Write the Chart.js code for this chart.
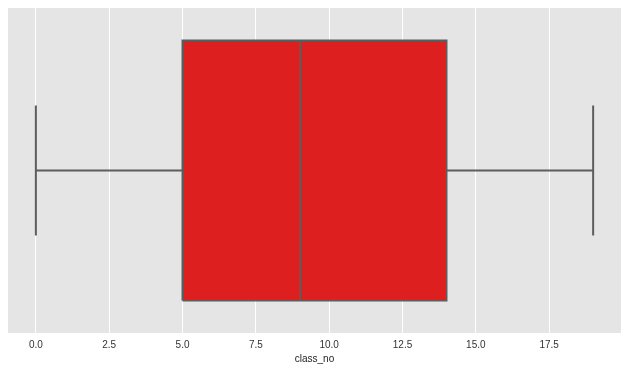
<!DOCTYPE html>
<html>
<head>
<meta charset="utf-8">
<script src="https://cdn.jsdelivr.net/npm/chart.js@4/dist/chart.umd.min.js"></script>
<style>
  html, body { margin: 0; padding: 0; background: #fff; }
  #wrap { width: 628px; height: 369px; }
</style>
</head>
<body>
<div id="wrap"><canvas id="boxChart"></canvas></div>
<script>
// Box plot summary of class_no
const whiskerLow = 0;
const q1 = 5;
const median = 9;
const q3 = 14;
const whiskerHigh = 19;

const xTicks = [0, 2.5, 5, 7.5, 10, 12.5, 15, 17.5];
const axisLabel = 'class_no';

const edgeColor = '#5d5d5d';
const boxColor = '#de1f1f';
const boxHalf = 0.4;   // box is 0.8 of the category band
const capHalf = 0.2;

// gray ggplot-like panel behind the plot
const panelBg = {
    id: 'panelBg',
    beforeDraw(chart) {
        const { ctx, chartArea: a } = chart;
        ctx.save();
        ctx.fillStyle = '#e5e5e5';
        ctx.fillRect(a.left, a.top, a.right - a.left, a.bottom - a.top);
        ctx.restore();
    }
};

function seg(points, extra) {
    return Object.assign({
        type: 'line',
        data: points,
        borderColor: edgeColor,
        borderWidth: 2,
        pointRadius: 0,
        fill: false,
        tension: 0,
        order: 1
    }, extra || {});
}

const ctx = document.getElementById('boxChart').getContext('2d');
const boxChart = new Chart(ctx, {
    type: 'scatter',
    data: {
        datasets: [
            // the box (Q1..Q3)
            seg([
                { x: q1, y: -boxHalf }, { x: q3, y: -boxHalf },
                { x: q3, y: boxHalf }, { x: q1, y: boxHalf },
                { x: q1, y: -boxHalf }
            ], { fill: 'shape', backgroundColor: boxColor, order: 2 }),
            seg([{ x: whiskerLow, y: 0 }, { x: q1, y: 0 }]),
            seg([{ x: q3, y: 0 }, { x: whiskerHigh, y: 0 }]),
            seg([{ x: whiskerLow, y: -capHalf }, { x: whiskerLow, y: capHalf }]),
            seg([{ x: whiskerHigh, y: -capHalf }, { x: whiskerHigh, y: capHalf }]),
            seg([{ x: median, y: -boxHalf }, { x: median, y: boxHalf }])
        ]
    },
    options: {
        responsive: true,
        maintainAspectRatio: false,
        animation: false,
        showLine: true,
        layout: { padding: { left: 8, right: 7, top: 8, bottom: 4 } },
        plugins: {
            legend: { display: false },
            tooltip: { enabled: false }
        },
        scales: {
            x: {
                type: 'linear',
                min: -0.95,
                max: 19.95,
                afterBuildTicks: (scale) => {
                    scale.ticks = xTicks.map(v => ({ value: v }));
                },
                grid: { color: '#ffffff', lineWidth: 1, drawTicks: false },
                border: { display: false },
                ticks: {
                    padding: 6,
                    color: '#333',
                    font: { family: 'Liberation Sans', size: 10 },
                    callback: (v) => Number(v).toFixed(1)
                },
                title: {
                    display: true,
                    text: axisLabel,
                    color: '#222',
                    font: { family: 'Liberation Sans', size: 10 },
                    padding: { top: -4, bottom: 0 }
                }
            },
            y: {
                type: 'linear',
                min: -0.5,
                max: 0.5,
                offset: false,
                display: false
            }
        }
    },
    plugins: [panelBg]
});
</script>
</body>
</html>
